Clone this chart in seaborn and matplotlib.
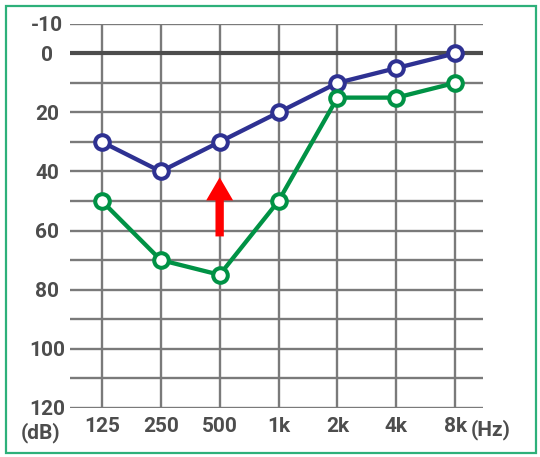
import matplotlib.pyplot as plt
import seaborn as sns

# audiogram values (dB HL)
freqs = ["125", "250", "500", "1k", "2k", "4k", "8k"]
right_ear = [30, 40, 30, 20, 10, 5, 0]
left_ear = [50, 70, 75, 50, 15, 15, 10]
db_labels = [-10, 0, 20, 40, 60, 80, 100, 120]
db_minor = [10, 30, 50, 70, 90, 110]

# red arrow at 500 Hz
arrow_freq = "500"
arrow_from = 62
arrow_to = 42

blue = "#2e3192"
green = "#009245"
text_col = "#4d4d4d"

sns.set_theme(style="white")
plt.rcParams['font.family'] = ['Roboto', 'DejaVu Sans']
plt.rcParams['font.weight'] = 'bold'
plt.rcParams['axes.unicode_minus'] = False

fig = plt.figure(figsize=(5.4, 4.57), dpi=100)
ax = fig.add_axes([70 / 540, 49.3 / 457, 413 / 540, 383.9 / 457])

line_kw = dict(marker='o', markersize=10.5, markerfacecolor='white',
               markeredgewidth=2.9, linewidth=3.1, sort=False, estimator=None, ax=ax)
sns.lineplot(x=freqs, y=right_ear, color=blue, markeredgecolor=blue, zorder=4, **line_kw)
sns.lineplot(x=freqs, y=left_ear, color=green, markeredgecolor=green, zorder=4, **line_kw)

# 0 dB reference line
ax.axhline(0, color="#4d4d4d", linewidth=3, zorder=2)

# arrow
xi = freqs.index(arrow_freq)
ax.annotate('', xy=(xi, arrow_to), xytext=(xi, arrow_from),
            arrowprops=dict(arrowstyle='simple,head_length=1.66,head_width=1.94,tail_width=0.6',
                            color='red', lw=0, shrinkA=0, shrinkB=0, mutation_scale=10),
            zorder=3)

ax.set_ylim(120, -10)
ax.set_yticks(db_labels)
ax.set_yticks(db_minor, minor=True)
ax.set_xlim(-0.54, 6.47)
ax.grid(True, which='both', color='#7a7a7a', linewidth=1.7, zorder=0)
ax.set_axisbelow(True)
for s in ax.spines.values():
    s.set_visible(False)

ax.tick_params(axis='both', which='both', length=0, labelsize=15, labelcolor=text_col)
ax.tick_params(axis='y', pad=16.5)
ax.tick_params(axis='x', pad=6.5)
for lab in ax.get_yticklabels():
    lab.set_ha('center')
ax.set_xlabel('')
ax.set_ylabel('')

# unit labels
fig.text(41 / 540, 1 - 432.5 / 457, "(dB)", ha='center', va='center',
         fontsize=15, color=text_col, fontweight='bold')
fig.text(471 / 540, 1 - 430 / 457, "(Hz)", ha='left', va='center',
         fontsize=15, color=text_col, fontweight='bold')

# green frame round the figure
frame = plt.Rectangle((5.5 / 540, 3.7 / 457), 530.2 / 540, 447.8 / 457, fill=False,
                      edgecolor='#2db07a', linewidth=1.6, transform=fig.transFigure)
fig.add_artist(frame)

fig.savefig('out.png', dpi=100)
